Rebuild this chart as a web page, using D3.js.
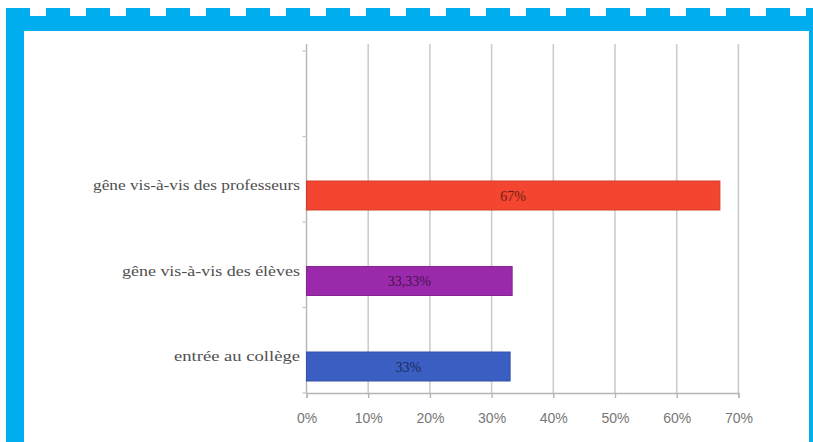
<!DOCTYPE html>
<html>
<head>
<meta charset="utf-8">
<script src="https://cdn.jsdelivr.net/npm/d3@7"></script>
<style>
  html, body { margin: 0; padding: 0; background: #ffffff; }
  svg { display: block; }
</style>
</head>
<body>
<svg id="chart" width="813" height="442"></svg>
<script>
// Categories listed bottom to top, as stacked on the chart
const categories = ["entrée au collège", "gêne vis-à-vis des élèves", "gêne vis-à-vis des professeurs"];
const values = [33, 33.33, 67];
const valueLabels = ["33%", "33,33%", "67%"];
const barColors = ["#3a5ec2", "#9a2aab", "#f3452f"];
const tickValues = [0, 10, 20, 30, 40, 50, 60, 70];
const tickLabels = ["0%", "10%", "20%", "30%", "40%", "50%", "60%", "70%"];
const labelLengths = [126, 178, 207];

const W = 813, H = 442;
const svg = d3.select("#chart");

// Blue frame with a crenellated top edge
const frameBlue = "#00aeef";
const frame = svg.append("g");
frame.append("rect").attr("x", 6).attr("y", 16).attr("width", W - 6).attr("height", 15).attr("fill", frameBlue);
frame.append("rect").attr("x", 6).attr("y", 16).attr("width", 18).attr("height", H - 16).attr("fill", frameBlue);
frame.append("rect").attr("x", 809).attr("y", 16).attr("width", 4).attr("height", H - 16).attr("fill", frameBlue);
frame.selectAll("rect.dash")
  .data(d3.range(6, W, 40))
  .join("rect")
  .attr("class", "dash")
  .attr("x", d => d).attr("y", 8)
  .attr("width", 24).attr("height", 9)
  .attr("fill", frameBlue);

// Plot geometry
const x0 = 306.5, x1 = 738.4;
const yBottom = 393, step = 85.5;
const plotTop = yBottom - 4 * step;

const x = d3.scaleLinear().domain([0, 70]).range([x0, x1]);
const y = d3.scaleBand()
  .domain(categories)
  .range([yBottom, yBottom - categories.length * step]);

const barOffset = 44.5, barH = 29;

// Vertical gridlines
svg.append("g")
  .selectAll("line")
  .data(tickValues.slice(1))
  .join("line")
  .attr("x1", d => x(d)).attr("x2", d => x(d))
  .attr("y1", plotTop - 7).attr("y2", yBottom)
  .attr("stroke", "#cccccc").attr("stroke-width", 1.6);

// Horizontal axis with downward ticks
const xAxis = svg.append("g")
  .attr("transform", `translate(0,${yBottom})`)
  .call(d3.axisBottom(x).tickValues(tickValues).tickFormat((d, i) => tickLabels[i]).tickSize(5).tickPadding(15));
xAxis.select(".domain").attr("stroke", "#b5b5b5").attr("stroke-width", 1.4);
xAxis.selectAll(".tick line").attr("stroke", "#b5b5b5").attr("stroke-width", 1.4);
xAxis.selectAll(".tick text")
  .attr("fill", "#777777")
  .style("font-family", "'Liberation Sans', Arial, sans-serif")
  .style("font-size", "14px");

// Vertical axis line with small ticks at band edges
svg.append("line")
  .attr("x1", x0).attr("x2", x0)
  .attr("y1", plotTop - 7).attr("y2", yBottom)
  .attr("stroke", "#b5b5b5").attr("stroke-width", 1.4);
svg.append("g")
  .selectAll("line")
  .data(d3.range(0, 5))
  .join("line")
  .attr("x1", x0 - 4).attr("x2", x0)
  .attr("y1", d => yBottom - d * step).attr("y2", d => yBottom - d * step)
  .attr("stroke", "#c4c4c4").attr("stroke-width", 1.2);

// Bars
svg.append("g")
  .selectAll("rect")
  .data(categories)
  .join("rect")
  .attr("x", x(0))
  .attr("y", d => y(d) + barOffset)
  .attr("width", (d, i) => x(values[i]) - x(0))
  .attr("height", barH)
  .attr("fill", (d, i) => barColors[i])
  .attr("stroke", (d, i) => d3.color(barColors[i]).darker(0.4))
  .attr("stroke-width", 1);

// Value labels centred in each bar
svg.append("g")
  .selectAll("text")
  .data(categories)
  .join("text")
  .attr("x", (d, i) => (x(0) + x(values[i])) / 2)
  .attr("y", d => y(d) + barOffset + barH / 2 + 5)
  .attr("text-anchor", "middle")
  .attr("fill", (d, i) => d3.color(barColors[i]).darker(2.2))
  .style("font-family", "'Liberation Serif', 'Times New Roman', serif")
  .style("font-size", "14px")
  .text((d, i) => valueLabels[i]);

// Category labels, right-aligned beside the axis
svg.append("g")
  .selectAll("text")
  .data(categories)
  .join("text")
  .attr("x", 300)
  .attr("y", d => y(d) + barOffset + barH / 2 - 5.5)
  .attr("text-anchor", "end")
  .attr("fill", "#505050")
  .attr("textLength", (d, i) => labelLengths[i])
  .attr("lengthAdjust", "spacingAndGlyphs")
  .style("font-family", "'Liberation Serif', 'Times New Roman', serif")
  .style("font-size", "15px")
  .text(d => d);
</script>
</body>
</html>
